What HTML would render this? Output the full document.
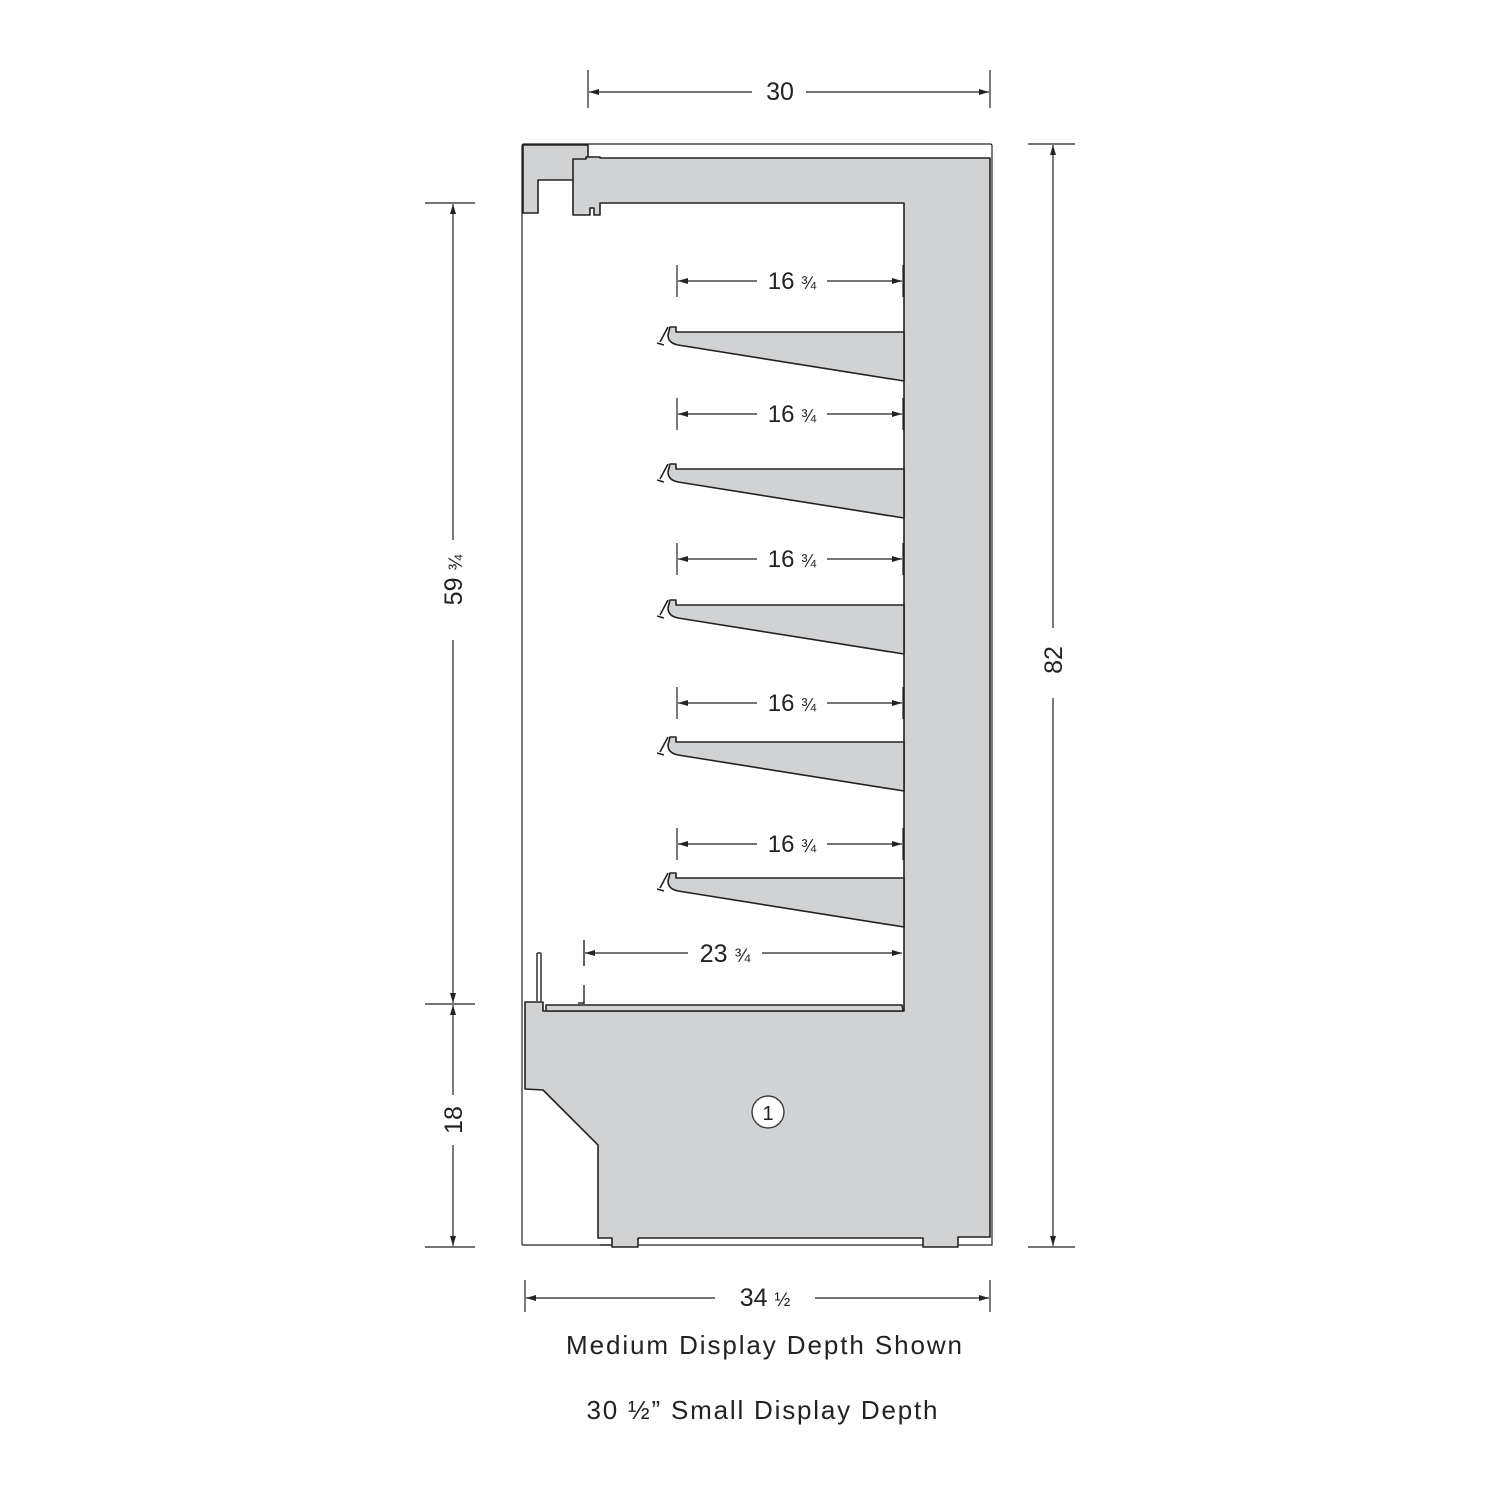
<!DOCTYPE html>
<html><head><meta charset="utf-8"><style>
html,body{margin:0;padding:0;background:#fff;}
svg{display:block;}
text{font-family:"Liberation Sans",sans-serif;fill:#222;}
</style></head><body>
<svg width="1500" height="1500" viewBox="0 0 1500 1500" xmlns="http://www.w3.org/2000/svg">
<defs>
<marker id="a" viewBox="0 0 10 6" refX="10" refY="3" markerWidth="10" markerHeight="6" orient="auto-start-reverse" markerUnits="userSpaceOnUse"><path d="M0,0L10,3L0,6z" fill="#222"/></marker>
</defs>
<g stroke="#222" stroke-width="1.2" fill="none">
<line x1="588" y1="70" x2="588" y2="108"/><line x1="990" y1="70" x2="990" y2="108"/>
<line x1="589" y1="92" x2="752" y2="92" marker-start="url(#a)"/>
<line x1="806" y1="92" x2="989" y2="92" marker-end="url(#a)"/>
<line x1="1028" y1="144" x2="1075" y2="144"/><line x1="1028" y1="1247" x2="1075" y2="1247"/>
<line x1="1053" y1="145" x2="1053" y2="628" marker-start="url(#a)"/>
<line x1="1053" y1="698" x2="1053" y2="1246" marker-end="url(#a)"/>
<line x1="425" y1="203" x2="475" y2="203"/><line x1="425" y1="1004" x2="475" y2="1004"/><line x1="425" y1="1247" x2="475" y2="1247"/>
<line x1="453" y1="204" x2="453" y2="540" marker-start="url(#a)"/>
<line x1="453" y1="640" x2="453" y2="1003" marker-end="url(#a)"/>
<line x1="453" y1="1005" x2="453" y2="1095" marker-start="url(#a)"/>
<line x1="453" y1="1145" x2="453" y2="1246" marker-end="url(#a)"/>
<line x1="525" y1="1280" x2="525" y2="1312"/><line x1="990" y1="1280" x2="990" y2="1312"/>
<line x1="526" y1="1298" x2="715" y2="1298" marker-start="url(#a)"/>
<line x1="815" y1="1298" x2="989" y2="1298" marker-end="url(#a)"/>
<path d="M522,1245 L522,146 Q522,144 524,144 L990,144 Q992,144 992,146 L992,1245 L522,1245"/>
</g>
<g stroke="#222" stroke-width="1.6" fill="#d1d2d4" stroke-linejoin="round">
<path d="M523,145 L588,145 L588,180 L538,180 L538,213 L523,213 Z"/>
<path d="M573,159 L586,159 L586,157 L600,157 L600,158 L990,158 L990,1237 L958,1237 L958,1247 L923,1247 L923,1238 L650,1238 L638,1238 L638,1247 L612,1247 L612,1238 L598,1238 L598,1145 L543,1090 L525,1089 L525,1002 L543,1002 L543,1011 L904,1011 L904,203 L600,203 L600,215 L594,215 L594,208 L590,208 L590,215 L573,215 Z"/>
<path d="M546,1005 L902,1005 L903,1011 L546,1011 Z"/>
</g>
<g stroke="#222" stroke-width="1.4" fill="none">
<line x1="537" y1="953" x2="537" y2="1001"/><line x1="541" y1="953" x2="541" y2="1001"/><line x1="537" y1="953" x2="541" y2="953"/>
<line x1="584" y1="985" x2="584" y2="1004"/><line x1="578" y1="1003" x2="584" y2="1003"/>
<line x1="584" y1="940" x2="584" y2="966"/>
<line x1="600" y1="1245" x2="612" y2="1245"/>
</g>
<g stroke="#222" stroke-width="1.6" fill="#d1d2d4" stroke-linejoin="round">
<g id="s"><path d="M676,332 L904,332 L904,381 L678,345 Q668,343 668,335 L670,327 L676,327 Z"/><path d="M668,327 L660,342 M657,343 L664,345" fill="none"/></g>
<use href="#s" y="137"/><use href="#s" y="273"/><use href="#s" y="410"/><use href="#s" y="546"/>
</g>
<g stroke="#222" stroke-width="1.2" fill="none">
<g id="d"><line x1="677" y1="265" x2="677" y2="297"/><line x1="903" y1="265" x2="903" y2="297"/>
<line x1="678" y1="281" x2="757" y2="281" marker-start="url(#a)"/><line x1="827" y1="281" x2="902" y2="281" marker-end="url(#a)"/></g>
<use href="#d" y="133"/><use href="#d" y="278"/><use href="#d" y="422"/><use href="#d" y="563"/>
<line x1="585" y1="953" x2="688" y2="953" marker-start="url(#a)"/><line x1="762" y1="953" x2="902" y2="953" marker-end="url(#a)"/>
</g>
<circle cx="768" cy="1112" r="16" fill="#fff" stroke="#222" stroke-width="1.2"/>
<g font-size="22" text-anchor="middle">
<text x="768" y="1120" font-size="20">1</text>
<text x="780" y="100" font-size="25">30</text>
<text x="792" y="289" font-size="24">16 <tspan font-size="18">¾</tspan></text>
<text x="792" y="422" font-size="24">16 <tspan font-size="18">¾</tspan></text>
<text x="792" y="567" font-size="24">16 <tspan font-size="18">¾</tspan></text>
<text x="792" y="711" font-size="24">16 <tspan font-size="18">¾</tspan></text>
<text x="792" y="852" font-size="24">16 <tspan font-size="18">¾</tspan></text>
<text x="725" y="962" font-size="25">23 <tspan font-size="19">¾</tspan></text>
<text x="765" y="1306" font-size="25">34 <tspan font-size="19">½</tspan></text>
<text transform="translate(1062,660) rotate(-90)" font-size="25">82</text>
<text transform="translate(462,580) rotate(-90)" font-size="25">59 <tspan font-size="19">¾</tspan></text>
<text transform="translate(462,1120) rotate(-90)" font-size="25">18</text>
<text x="764" y="1354" font-size="26" textLength="396" lengthAdjust="spacing">Medium Display Depth Shown</text>
<text x="762" y="1419" font-size="26" textLength="351" lengthAdjust="spacing">30 ½” Small Display Depth</text>
</g>
</svg>
</body></html>
